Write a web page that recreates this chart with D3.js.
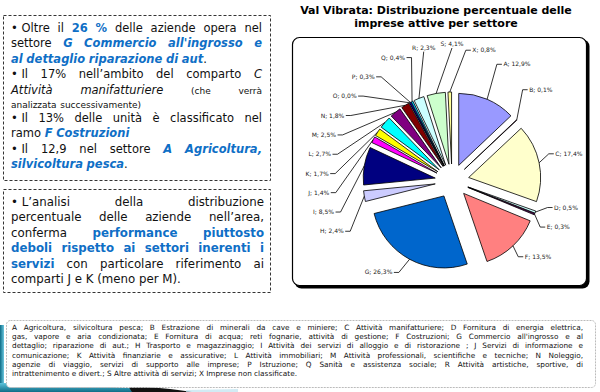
<!DOCTYPE html>
<html lang="it">
<head>
<meta charset="UTF-8">
<title>Val Vibrata: Distribuzione percentuale delle imprese attive per settore</title>
<style>
  * { margin: 0; }
  body { width: 600px; height: 392px; background: #fff; overflow: hidden; }
  svg { display: block; }
</style>
</head>
<body>
<svg id="chart" width="600" height="392"></svg>
<script src="https://cdn.jsdelivr.net/npm/d3@7"></script>
<script>
// data
const sectors = ["A", "B", "C", "D", "E", "F", "G", "H", "I", "J", "K", "L", "M", "N", "O", "P", "Q", "R", "S", "X"];
const shares = [12.9, 0.1, 17.4, 0.5, 0.3, 13.5, 26.3, 2.4, 8.5, 1.4, 1.7, 2.7, 2.5, 1.8, 0.0, 0.3, 0.4, 2.3, 4.1, 0.8];
const colors = ["#9999ff", "#993366", "#ffffcc", "#ccffff", "#660066", "#ff8080", "#0066cc", "#ccccff",
  "#000080", "#ff00ff", "#ffff00", "#00ffff", "#800080", "#800000", "#008080", "#0000ff",
  "#00ccff", "#ccffff", "#ccffcc", "#ffff99"];

const titleLines = ["Val Vibrata: Distribuzione percentuale delle", "imprese attive per settore"];

// text boxes: [style, text] runs per line
const box1Lines = [
  [["n", "•\u00a0Oltre il "], ["b", "26 %"], ["n", " delle aziende opera nel"]],
  [["n", "settore "], ["bi", "G Commercio all'ingrosso e"]],
  [["bi", "al dettaglio riparazione di aut"], ["n", "."]],
  [["n", "•\u00a0Il 17% nell’ambito del comparto "], ["i", "C"]],
  [["i", "Attività manifatturiere"], ["s", " (che verrà"]],
  [["s", "analizzata successivamente)"]],
  [["n", "•\u00a0Il 13% delle unità è classificato nel"]],
  [["n", "ramo "], ["bi", "F Costruzioni"]],
  [["n", "•\u00a0Il 12,9 nel settore "], ["bi", "A Agricoltura,"]],
  [["bi", "silvicoltura pesca"], ["n", "."]]
];
const box1Justify = [1, 1, 0, 1, 1, 0, 1, 0, 1, 0];

const box2Lines = [
  [["n", "•\u00a0L’analisi della distribuzione"]],
  [["n", "percentuale delle aziende nell’area,"]],
  [["n", "conferma "], ["b", "performance piuttosto"]],
  [["b", "deboli rispetto ai settori inerenti i"]],
  [["b", "servizi"], ["n", " con particolare riferimento ai"]],
  [["n", "comparti J e K (meno per M)."]]
];
const box2Justify = [1, 1, 1, 1, 1, 0];

const legendLines = [
  "A Agricoltura, silvicoltura pesca; B Estrazione di minerali da cave e miniere; C Attività manifatturiere; D Fornitura di energia elettrica,",
  "gas, vapore e aria condizionata; E Fornitura di acqua; reti fognarie, attività di gestione; F Costruzioni; G Commercio all'ingrosso e al",
  "dettaglio; riparazione di aut.; H Trasporto e magazzinaggio; I Attività dei servizi di alloggio e di ristorazione ; J Servizi di informazione e",
  "comunicazione; K Attività finanziarie e assicurative; L Attività immobiliari; M Attività professionali, scientifiche e tecniche; N Noleggio,",
  "agenzie di viaggio,  servizi di supporto alle imprese; P Istruzione; Q Sanità e assistenza sociale; R Attività artistiche, sportive,  di",
  "intrattenimento e divert.; S Altre attività di servizi; X Imprese non classificate."
];
const legendJustify = [1, 1, 1, 1, 1, 0];

// setup
const font = "DejaVu Sans, Verdana, sans-serif";
const blue = "#0f6fc6";
const svg = d3.select("#chart").style("font-family", font);

const defs = svg.append("defs");
const teal = defs.append("linearGradient").attr("id", "teal").attr("x1", 0).attr("y1", 0).attr("x2", 0).attr("y2", 1);
teal.append("stop").attr("offset", "0%").attr("stop-color", "#5cc3dc");
teal.append("stop").attr("offset", "100%").attr("stop-color", "#0d6c86");
const tealH = defs.append("linearGradient").attr("id", "tealH").attr("x1", 0).attr("y1", 0).attr("x2", 1).attr("y2", 0);
tealH.append("stop").attr("offset", "0%").attr("stop-color", "#0d6c86");
tealH.append("stop").attr("offset", "100%").attr("stop-color", "#6cc8e0");

// decoration bottom-left
svg.append("rect").attr("x", 0).attr("y", 325).attr("width", 4).attr("height", 67).attr("fill", "url(#tealH)");
svg.append("path").attr("d", "M0,383 Q70,383 142,389 L142,392 L0,392 Z").attr("fill", "url(#teal)");
svg.append("path").attr("d", "M128,386 C150,387 175,389 192,392 L132,392 Z").attr("fill", "#111");
svg.append("path").attr("d", "M186,390 L238,389 L238,392 L186,392 Z").attr("fill", "#bfe3f0").attr("opacity", 0.7);

// justified text helper
const styleMap = {
  n: { w: "normal", s: "normal", c: "#111", k: 1 },
  b: { w: "bold", s: "normal", c: blue, k: 1 },
  bi: { w: "bold", s: "italic", c: blue, k: 1 },
  i: { w: "normal", s: "italic", c: "#111", k: 1 },
  s: { w: "normal", s: "normal", c: "#111", k: 0.78 }
};

function textBlock(g, lines, justify, x0, x1, y0, lineH, size, smallH) {
  const probe = g.append("text").attr("font-size", size).text("a\u00a0a");
  const probe2 = g.append("text").attr("font-size", size).text("aa");
  const spaceW = probe.node().getComputedTextLength() - probe2.node().getComputedTextLength();
  probe.remove(); probe2.remove();
  let y = y0;
  lines.forEach((runs, li) => {
    const words = [[]];
    runs.forEach(([st, txt]) => {
      txt.split(" ").forEach((p, k) => {
        if (k > 0) words.push([]);
        if (p) words[words.length - 1].push([st, p]);
      });
    });
    const ws = words.filter(w => w.length);
    const nodes = ws.map(w => {
      const t = g.append("text").attr("y", y).attr("font-size", size);
      w.forEach(([st, p]) => {
        const s = styleMap[st];
        t.append("tspan").text(p).attr("font-weight", s.w).attr("font-style", s.s)
          .attr("fill", s.c).attr("font-size", size * s.k);
      });
      return { t, width: t.node().getComputedTextLength() };
    });
    const total = d3.sum(nodes, d => d.width);
    const gap = justify[li] && nodes.length > 1 ? (x1 - x0 - total) / (nodes.length - 1) : spaceW;
    let x = x0;
    nodes.forEach(d => { d.t.attr("x", x); x += d.width + gap; });
    const small = runs.every(r => r[0] === "s");
    y += (small || (li + 1 < lines.length && lines[li + 1].every(r => r[0] === "s"))) && smallH ? smallH : lineH;
  });
}

// left boxes
const boxes = svg.append("g");
boxes.append("rect").attr("x", 3.5).attr("y", 15.5).attr("width", 267).attr("height", 165)
  .attr("fill", "#fff").attr("stroke", "#333").attr("stroke-dasharray", "3,2");
boxes.append("rect").attr("x", 3.5).attr("y", 189.5).attr("width", 267).attr("height", 103)
  .attr("fill", "#fff").attr("stroke", "#333").attr("stroke-dasharray", "3,2");
textBlock(boxes.append("g"), box1Lines, box1Justify, 11, 262, 31.5, 15.5, 11.5, 14);
textBlock(boxes.append("g"), box2Lines, box2Justify, 11, 264, 206, 15.4, 11.8);

// legend box
const leg = svg.append("g");
leg.append("rect").attr("x", 6.5).attr("y", 320.5).attr("width", 589).attr("height", 67).attr("rx", 4)
  .attr("fill", "#fff").attr("stroke", "#bbb").attr("stroke-dasharray", "2,1");
textBlock(leg.append("g"), legendLines.map(l => [["n", l]]), legendJustify, 12, 583, 330, 9.2, 7.3);

// chart frame and title
const frame = svg.append("g");
frame.append("rect").attr("x", 294.5).attr("y", 39.5).attr("width", 295).attr("height", 249).attr("rx", 7).attr("fill", "#000");
frame.append("rect").attr("x", 292.5).attr("y", 37.5).attr("width", 294).attr("height", 248).attr("rx", 7)
  .attr("fill", "#fff").attr("stroke", "#000").attr("stroke-width", 1.2);
svg.append("g").selectAll("text").data(titleLines).join("text")
  .attr("x", 436).attr("y", (d, i) => 14 + i * 13)
  .attr("text-anchor", "middle").attr("font-weight", "bold").attr("font-size", 11).text(d => d);

// pie
const cx = 452, cy = 181, radius = 72, explode = 17;
const slices = sectors.map((s, i) => ({ sector: s, share: shares[i], color: colors[i] }));
const arcs = d3.pie().sort(null).value(d => d.share)(slices);
const arc = d3.arc().innerRadius(0).outerRadius(radius);
const mid = d => (d.startAngle + d.endAngle) / 2;
const polar = (a, r) => [Math.sin(a) * r, -Math.cos(a) * r];

const pieG = svg.append("g");
pieG.selectAll("path").data(arcs).join("path")
  .attr("transform", d => { const [dx, dy] = polar(mid(d), explode); return `translate(${cx + dx},${cy + dy})`; })
  .attr("d", arc).attr("fill", d => d.data.color).attr("stroke", "#000").attr("stroke-width", 0.8);

// labels with simple collision relaxation around an ellipse
const it = d3.formatLocale({ decimal: ",", thousands: ".", grouping: [3], currency: ["€", ""] }).format(".1f");
const labG = svg.append("g").attr("font-size", 6).attr("fill", "#222");
const rxRight = 104, rxLeft = 122, ryTop = 133, ryBottom = 104;
const labels = arcs.map(d => {
  const text = `${d.data.sector}; ${it(d.data.share)}%`;
  const t = labG.append("text").text(text);
  return { d, a: mid(d), text, t, w: t.node().getComputedTextLength() };
});

function place(l) {
  const s = Math.sin(l.a), c = Math.cos(l.a);
  l.x = cx + s * (s >= 0 ? rxRight : rxLeft); l.y = cy - c * (c >= 0 ? ryTop : ryBottom);
  l.top = s < 0 && c > 0.93;
  l.side = s >= 0 ? 1 : -1;
  if (l.top) { l.bx0 = l.x - l.w / 2; l.bx1 = l.x + l.w / 2; l.by0 = l.y - 9; l.by1 = l.y - 1; }
  else {
    l.bx0 = l.side > 0 ? l.x : l.x - l.w - 2; l.bx1 = l.bx0 + l.w + 2;
    l.by0 = l.y - 4; l.by1 = l.y + 4;
  }
}
const overlap = (p, q) =>
  Math.min(p.bx1, q.bx1) - Math.max(p.bx0, q.bx0) + 5 > 0 &&
  Math.min(p.by1, q.by1) - Math.max(p.by0, q.by0) + 11 > 0;

// push a little more counter-clockwise, as the reference spreads the crowded labels downwards
for (let k = 0; k < 1000; k++) {
  labels.forEach(place);
  let moved = false;
  for (let i = 0; i < labels.length; i++) {
    const p = labels[i], q = labels[(i + 1) % labels.length];
    if (overlap(p, q)) { p.a -= 0.0045; q.a += 0.0035; moved = true; }
  }
  if (!moved) break;
}
labels.forEach(place);

labels.forEach(l => {
  const [sx, sy] = polar(mid(l.d), explode + radius);
  const start = [cx + sx, cy + sy];
  const pts = l.top ? [start, [l.x, l.y]] : [start, [l.x - l.side * 5, l.y], [l.x, l.y]];
  labG.append("path").attr("d", d3.line()(pts)).attr("fill", "none").attr("stroke", "#000").attr("stroke-width", 0.8);
  if (l.top) l.t.attr("x", l.x).attr("y", l.y - 2).attr("text-anchor", "middle");
  else l.t.attr("x", l.x + l.side * 1.5).attr("y", l.y + 2).attr("text-anchor", l.side > 0 ? "start" : "end");
});
</script>
</body>
</html>
